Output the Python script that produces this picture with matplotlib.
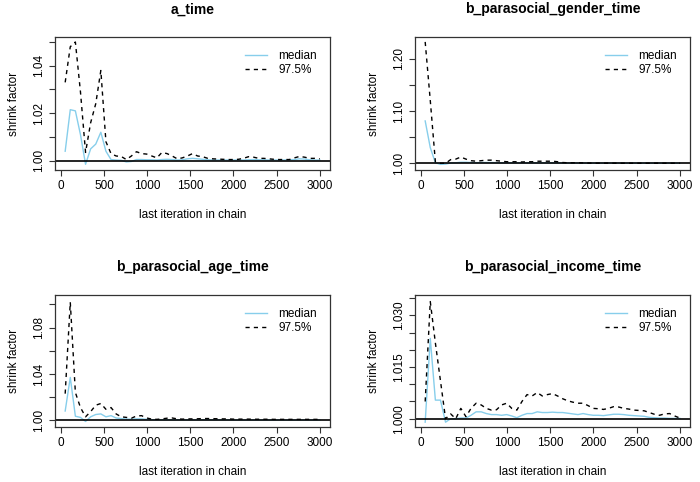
import matplotlib
matplotlib.use("Agg")
import matplotlib.pyplot as plt

plt.rcParams['font.family'] = ['Liberation Sans', 'DejaVu Sans']

# last iteration in chain (x positions of the Gelman-Rubin bins)
iterations = [50, 109, 168, 227, 286, 345, 404, 463, 522, 581,
              640, 699, 758, 817, 876, 935, 994, 1053, 1112, 1171,
              1230, 1289, 1348, 1407, 1466, 1525, 1584, 1643, 1702, 1761,
              1820, 1879, 1938, 1997, 2056, 2115, 2174, 2233, 2292, 2351,
              2410, 2469, 2528, 2587, 2646, 2705, 2764, 2823, 2882, 2941,
              3000]

titles = ['a_time', 'b_parasocial_gender_time',
          'b_parasocial_age_time', 'b_parasocial_income_time']

# a_time
a_med = [1.004, 1.0215, 1.021, 1.011, 0.9985, 1.005, 1.007, 1.012, 1.004, 1.0005,
         1.0003, 1.0002, 0.9995, 0.9997, 1.0005, 1.0005, 1.0004, 1.0004, 1.0003, 1.0005,
         1.0006, 1.0005, 1.0003, 1.0004, 1.0008, 1.001, 1.0008, 1.0006, 1.0004, 1.0003,
         1.0003, 1.0003, 1.0003, 1.0003, 1.0003, 1.0003, 1.0004, 1.0005, 1.0004, 1.0004,
         1.0003, 1.0003, 1.0003, 1.0003, 1.0004, 1.0005, 1.0008, 1.0007, 1.0004, 1.0003,
         1.0003]
a_q97 = [1.033, 1.048, 1.050, 1.029, 1.0035, 1.016, 1.024, 1.038, 1.008, 1.003,
         1.002, 1.0018, 1.0005, 1.002, 1.0038, 1.003, 1.0028, 1.002, 1.0012, 1.0035,
         1.003, 1.002, 1.0008, 1.0012, 1.002, 1.003, 1.002, 1.0017, 1.001, 1.0008,
         1.0007, 1.0006, 1.0005, 1.0005, 1.0006, 1.001, 1.0017, 1.0015, 1.001, 1.001,
         1.0008, 1.0006, 1.0005, 1.0005, 1.0005, 1.0012, 1.0018, 1.0015, 1.001, 1.001,
         1.0008]

# b_parasocial_gender_time
g_med = [1.081, 1.03, 1.001, 0.998, 0.9985, 1.0005, 1.001, 1.002, 1.002, 1.0015,
         1.0012, 1.0015, 1.0015, 1.0015, 1.0012, 1.001, 1.001, 1.001, 1.001, 1.001,
         1.001, 1.001, 1.001, 1.001, 1.001, 1.001, 1.0008, 1.0005, 1.0005, 1.0005,
         1.0004, 1.0004, 1.0003, 1.0003, 1.0003, 1.0003, 1.0003, 1.0003, 1.0002, 1.0002,
         1.0002, 1.0002, 1.0002, 1.0002, 1.0002, 1.0002, 1.0002, 1.0002, 1.0002, 1.0002,
         1.0002]
g_q97 = [1.232, 1.12, 1.003, 1.000, 1.000, 1.007, 1.008, 1.012, 1.008, 1.005,
         1.004, 1.005, 1.006, 1.006, 1.005, 1.004, 1.003, 1.003, 1.003, 1.0025,
         1.003, 1.003, 1.004, 1.004, 1.004, 1.004, 1.003, 1.0015, 1.001, 1.001,
         1.001, 1.0008, 1.0005, 1.0003, 1.0003, 1.0003, 1.0003, 1.0003, 1.0002, 1.0002,
         1.0002, 1.0002, 1.0002, 1.0002, 1.0002, 1.0002, 1.0002, 1.0002, 1.0002, 1.0002,
         1.0002]

# b_parasocial_age_time
age_med = [1.008, 1.037, 1.0035, 1.0025, 0.999, 1.003, 1.005, 1.0055, 1.003, 1.004,
           1.002, 1.0015, 1.001, 1.001, 1.0012, 1.0012, 1.0008, 1.0005, 1.0004, 1.0004,
           1.0004, 1.0004, 1.0004, 1.0004, 1.0004, 1.0004, 1.0004, 1.0004, 1.0004, 1.0004,
           1.0004, 1.0004, 1.0004, 1.0003, 1.0003, 1.0003, 1.0003, 1.0003, 1.0003, 1.0003,
           1.0003, 1.0003, 1.0003, 1.0003, 1.0003, 1.0003, 1.0003, 1.0003, 1.0003, 1.0003,
           1.0003]
age_q97 = [1.023, 1.102, 1.024, 1.011, 1.003, 1.0075, 1.013, 1.0145, 1.0095, 1.011,
           1.0055, 1.003, 1.0025, 1.0018, 1.0037, 1.004, 1.002, 1.001, 1.0008, 1.0012,
           1.0018, 1.002, 1.0012, 1.001, 1.0012, 1.0012, 1.0013, 1.0015, 1.0015, 1.0014,
           1.0013, 1.0012, 1.0012, 1.001, 1.001, 1.001, 1.001, 1.0009, 1.0009, 1.0009,
           1.0009, 1.0008, 1.0008, 1.0008, 1.0008, 1.0008, 1.0008, 1.0008, 1.0008, 1.0008,
           1.0008]

# b_parasocial_income_time
inc_med = [0.999, 1.0233, 1.0054, 1.0054, 0.999, 1.000, 1.000, 1.0002, 1.0002, 1.001,
           1.002, 1.002, 1.0015, 1.0012, 1.0012, 1.001, 1.0012, 1.0008, 1.0003, 1.001,
           1.0015, 1.0015, 1.002, 1.0018, 1.0018, 1.0019, 1.0018, 1.0018, 1.0016, 1.0014,
           1.0012, 1.0015, 1.0012, 1.001, 1.001, 1.0009, 1.0011, 1.0013, 1.0013, 1.0012,
           1.001, 1.0009, 1.0008, 1.0007, 1.0004, 1.0003, 1.0002, 1.0002, 1.0001, 1.0001,
           1.0001]
inc_q97 = [1.005, 1.034, 1.022, 1.011, 1.000, 1.0014, 1.000, 1.003, 1.0006, 1.003,
           1.0045, 1.004, 1.003, 1.0025, 1.0026, 1.004, 1.0045, 1.003, 1.0025, 1.005,
           1.007, 1.0066, 1.0076, 1.0066, 1.007, 1.0073, 1.0066, 1.0058, 1.0052, 1.0048,
           1.0045, 1.0045, 1.0038, 1.003, 1.0029, 1.0027, 1.003, 1.0035, 1.0034, 1.003,
           1.0028, 1.0025, 1.0024, 1.0023, 1.0018, 1.0013, 1.001, 1.0014, 1.0015, 1.0008,
           1.0002]

medians = [a_med, g_med, age_med, inc_med]
q97s = [a_q97, g_q97, age_q97, inc_q97]

# axis setup per panel: limits, tick positions, which ticks get labels
ylims = [(0.9961, 1.0521), (0.9872, 1.2414), (0.9942, 1.1082), (0.9976, 1.0359)]
yticks = [[1.00, 1.01, 1.02, 1.03, 1.04, 1.05],
          [1.00, 1.05, 1.10, 1.15, 1.20],
          [1.00, 1.02, 1.04, 1.06, 1.08, 1.10],
          [1.000, 1.005, 1.010, 1.015, 1.020, 1.025, 1.030, 1.035]]
ylabels = [['1.00', '', '1.02', '', '1.04', ''],
           ['1.00', '', '1.10', '', '1.20'],
           ['1.00', '', '1.04', '', '1.08', ''],
           ['1.000', '', '', '1.015', '', '', '1.030', '']]

fig = plt.figure(figsize=(7, 4.82), dpi=100)
W, H = 700, 482
boxes = [(55, 37, 330, 170), (415, 37, 690, 170),
         (55, 295, 330, 427), (415, 295, 690, 427)]

for i in range(4):
    l, t, r, b = boxes[i]
    ax = fig.add_axes([l / W, 1 - b / H, (r - l) / W, (b - t) / H])
    ax.plot(iterations, medians[i], color='skyblue', lw=1.0, label='median')
    ax.plot(iterations, q97s[i], color='black', lw=1.0, ls=(0, (3, 3)), label='97.5%')
    ax.axhline(1.0, color='black', lw=1.2)
    ax.set_xlim(-68, 3118)
    ax.set_ylim(*ylims[i])
    ax.set_xticks([0, 500, 1000, 1500, 2000, 2500, 3000])
    ax.set_yticks(yticks[i])
    ax.set_yticklabels(ylabels[i])
    ax.tick_params(direction='out', length=4, width=0.8, labelsize=8.5, color='#333333')
    ax.tick_params(axis='y', labelrotation=90)
    for lab in ax.get_yticklabels():
        lab.set_va('center')
    for s in ax.spines.values():
        s.set_linewidth(0.9)
        s.set_color('#333333')
    ax.set_title(titles[i], fontsize=10, fontweight='bold', pad=17)
    ax.set_xlabel('last iteration in chain', fontsize=8.5, labelpad=12)
    ax.set_ylabel('shrink factor', fontsize=8.5, labelpad=9)
    ax.legend(loc='upper right', frameon=False, fontsize=8.5, handlelength=1.8,
              handletextpad=1.0, labelspacing=0.2, borderaxespad=0.7)

fig.savefig('out.png', dpi=100)
